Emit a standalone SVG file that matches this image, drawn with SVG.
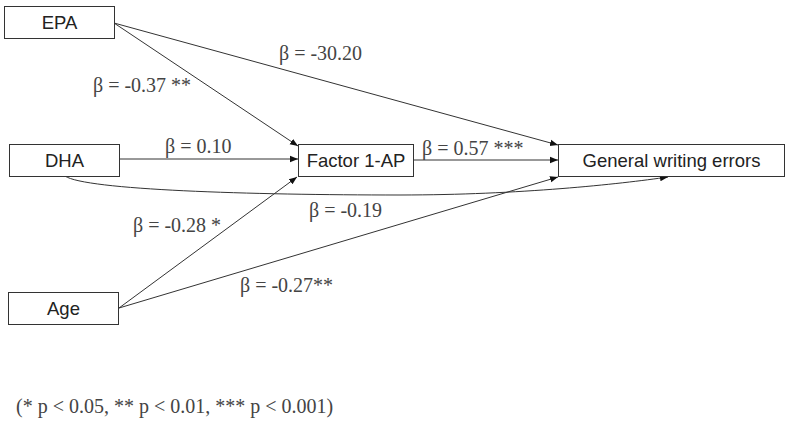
<svg xmlns="http://www.w3.org/2000/svg" width="790" height="430" viewBox="0 0 790 430">
<style>
.box{fill:#fff;stroke:#333;stroke-width:1}
.nt{font-family:"Liberation Sans",Arial,sans-serif;font-size:18.5px;fill:#222;text-anchor:middle}
.lb{font-family:"Liberation Serif","Times New Roman",serif;font-size:20px;fill:#444}
.ed{fill:none;stroke:#333;stroke-width:1}
</style>
<defs>
<marker id="ah" viewBox="0 0 10 10" refX="10" refY="5" markerWidth="8" markerHeight="8" markerUnits="userSpaceOnUse" orient="auto">
<path d="M0,1 L10,5 L0,9 Z" fill="#111"/>
</marker>
</defs>
<rect width="790" height="430" fill="#fff"/>
<g id="connectors">
<line class="ed" x1="114" y1="23" x2="298" y2="146" marker-end="url(#ah)"/>
<line class="ed" x1="114" y1="23" x2="558" y2="145" marker-end="url(#ah)"/>
<line class="ed" x1="119" y1="159" x2="298" y2="159" marker-end="url(#ah)"/>
<line class="ed" x1="413" y1="160" x2="558" y2="160" marker-end="url(#ah)"/>
<path class="ed" d="M65,176 C85,190 250,195 400,195 C520,195 620,184 668,177" marker-end="url(#ah)"/>
<line class="ed" x1="119" y1="308" x2="297" y2="177" marker-end="url(#ah)"/>
<line class="ed" x1="119" y1="308" x2="558" y2="177" marker-end="url(#ah)"/>
</g>
<g id="labels">
<text class="lb" x="279" y="60">β = -30.20</text>
<text class="lb" x="93" y="92">β = -0.37 **</text>
<text class="lb" x="165" y="153">β = 0.10</text>
<text class="lb" x="422" y="155">β = 0.57 ***</text>
<text class="lb" x="309" y="217">β = -0.19</text>
<text class="lb" x="133" y="232">β = -0.28 *</text>
<text class="lb" x="240" y="292">β = -0.27**</text>
<text class="lb" x="16" y="413">(* p &lt; 0.05, ** p &lt; 0.01, *** p &lt; 0.001)</text>
</g>
<g id="EPA"><rect class="box" x="4.5" y="6.5" width="110" height="32"/><text class="nt" x="59.5" y="29">EPA</text></g>
<g id="DHA"><rect class="box" x="9.5" y="144.5" width="110" height="32"/><text class="nt" x="64.5" y="167">DHA</text></g>
<g id="Factor"><rect class="box" x="298.5" y="144.5" width="115" height="32"/><text class="nt" x="356" y="167">Factor 1-AP</text></g>
<g id="General"><rect class="box" x="558.5" y="144.5" width="226" height="32"/><text class="nt" x="671.5" y="167">General writing errors</text></g>
<g id="Age"><rect class="box" x="8.5" y="292.5" width="110" height="32"/><text class="nt" x="63.5" y="315">Age</text></g>
</svg>
